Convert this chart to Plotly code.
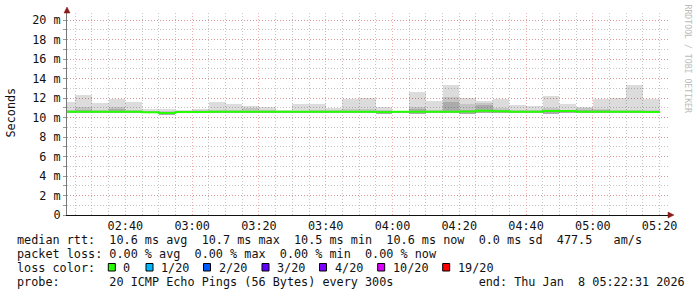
import plotly.graph_objects as go
import pandas as pd

# ---- data (milliseconds), one value per 5-minute step starting 02:20 ----
step_start = pd.date_range("2026-01-08 02:20:00", periods=36, freq="5min")

smoke_hi = [11.6, 12.3, 11.5, 11.9, 11.6, 10.9, 10.85, 10.8, 10.9, 11.6,
            11.4, 11.2, 11.1, 10.8, 11.4, 11.4, 11.0, 11.9, 12.0, 11.08,
            10.7, 12.6, 11.7, 13.33, 12.0, 11.7, 11.9, 11.28, 11.18, 12.2,
            11.4, 11.08, 11.9, 12.0, 13.35, 11.9]
smoke_mid = [10.75, 11.05, 10.75, 11.08, 10.8, 10.65, 10.7, 10.7, 10.75, 10.8,
             10.75, 10.95, 10.8, 10.7, 10.7, 10.75, 10.8, 10.9, 10.85, 10.8,
             10.65, 11.08, 10.75, 12.1, 11.4, 11.5, 11.0, 10.8, 10.75, 10.97,
             10.8, 11.0, 10.9, 10.8, 10.8, 10.8]
smoke_dark = [10.65, 10.8, 10.65, 10.85, 10.65, 10.6, 10.6, 10.6, 10.62, 10.65,
              10.62, 10.7, 10.65, 10.6, 10.6, 10.62, 10.65, 10.7, 10.7, 10.65,
              10.6, 10.85, 10.65, 11.6, 10.8, 11.25, 10.75, 10.65, 10.65, 10.75,
              10.65, 10.75, 10.75, 10.65, 10.65, 10.65]
smoke_lo = [10.45, 10.45, 10.45, 10.45, 10.45, 10.42, 10.3, 10.45, 10.45, 10.42,
            10.45, 10.45, 10.42, 10.45, 10.45, 10.45, 10.45, 10.45, 10.45, 10.4,
            10.45, 10.4, 10.45, 10.42, 10.4, 10.45, 10.45, 10.45, 10.45, 10.4,
            10.45, 10.45, 10.45, 10.45, 10.45, 10.45]
median = [10.58, 10.6, 10.6, 10.58, 10.58, 10.55, 10.45, 10.57, 10.57, 10.58,
          10.58, 10.6, 10.6, 10.58, 10.58, 10.58, 10.58, 10.6, 10.6, 10.57,
          10.58, 10.6, 10.6, 10.6, 10.62, 10.7, 10.63, 10.6, 10.6, 10.68,
          10.66, 10.6, 10.6, 10.58, 10.58, 10.56]

y_tickvals = [0, 2, 4, 6, 8, 10, 12, 14, 16, 18, 20]
y_ticktext = ["0", "2 m", "4 m", "6 m", "8 m", "10 m", "12 m", "14 m", "16 m", "18 m", "20 m"]

legend_lines = [
    "median rtt:  10.6 ms avg  10.7 ms max  10.5 ms min  10.6 ms now  0.0 ms sd  477.5   am/s",
    "packet loss: 0.00 % avg  0.00 % max  0.00 % min  0.00 % now",
    "loss color:",
    "probe:       20 ICMP Echo Pings (56 Bytes) every 300s            end: Thu Jan  8 05:22:31 2026",
]
loss_labels = ["0", "1/20", "2/20", "3/20", "4/20", "10/20", "19/20"]
loss_colors = ["#26ff00", "#00b8ff", "#0059ff", "#5e00ff", "#7e00ff", "#dd00ff", "#ff0000"]

# ---- geometry ----
W, H = 697, 297
L, R, T, B = 67, 668, 13, 215
MONO = "DejaVu Sans Mono"
FS = 11.8

def px(x):
    return (x - L) / (R - L)

def py(y):
    return (B - y) / (B - T)

step = pd.Timedelta(minutes=5)
centers = [t + step / 2 for t in step_start]

fig = go.Figure()
for top, col in [(smoke_hi, "rgba(0,0,0,0.137)"),
                 (smoke_mid, "rgba(0,0,0,0.10)"),
                 (smoke_dark, "rgba(0,0,0,0.13)")]:
    fig.add_trace(go.Bar(
        x=centers, y=[h - l for h, l in zip(top, smoke_lo)], base=smoke_lo,
        width=300000, marker=dict(color=col, line=dict(width=0)),
        hoverinfo="skip", showlegend=False))

line_x = list(step_start) + [step_start[-1] + step]
line_y = median + [median[-1]]
fig.add_trace(go.Scatter(x=line_x, y=line_y, mode="lines", line_shape="hv",
                         line=dict(color="#26ff00", width=2), showlegend=False,
                         hoverinfo="skip"))

major_grid = "rgba(230,110,110,0.55)"
minor_grid = "rgba(150,150,150,0.55)"

fig.update_layout(
    width=W, height=H,
    margin=dict(l=L, r=W - R, t=T, b=H - B),
    paper_bgcolor="white", plot_bgcolor="white",
    barmode="overlay", bargap=0,
    showlegend=False,
    font=dict(family=MONO, size=FS, color="#111"),
    xaxis=dict(
        type="date",
        range=["2026-01-08 02:22:31", "2026-01-08 05:22:31"],
        tick0="2026-01-08 02:40:00", dtick=1200000, tickformat="%H:%M",
        showgrid=True, gridcolor=major_grid, griddash="1px,2px", gridwidth=1,
        minor=dict(tick0="2026-01-08 02:25:00", dtick=300000, showgrid=True,
                   gridcolor=minor_grid, griddash="1px,2px", ticks=""),
        showline=True, linecolor="#111", linewidth=1,
        ticks="", zeroline=False, automargin=False,
        tickfont=dict(family=MONO, size=FS, color="#111"),
    ),
    yaxis=dict(
        range=[0, 20.72],
        tickvals=y_tickvals, ticktext=y_ticktext,
        showgrid=True, gridcolor=major_grid, griddash="1px,2px", gridwidth=1,
        minor=dict(dtick=1, tick0=0, showgrid=True, gridcolor=minor_grid,
                   griddash="1px,2px", ticks="outside", ticklen=3, tickcolor="#999"),
        showline=True, linecolor="#777", linewidth=1,
        ticks="outside", ticklen=3, tickcolor="#999",
        zeroline=False, automargin=False,
        tickfont=dict(family=MONO, size=FS, color="#111"),
    ),
)

# axis arrows (pixel-sized triangles anchored at the axis ends)
fig.add_shape(type="path", xref="paper", yref="paper",
              xsizemode="pixel", ysizemode="pixel", xanchor=0, yanchor=1,
              path="M -3 0 L 3 0 L 0 6 Z",
              fillcolor="#8b1a1a", line=dict(color="#8b1a1a", width=0.5), layer="above")
fig.add_shape(type="path", xref="paper", yref="paper",
              xsizemode="pixel", ysizemode="pixel", xanchor=1, yanchor=0,
              path="M 0 -3 L 0 3 L 6 0 Z",
              fillcolor="#8b1a1a", line=dict(color="#8b1a1a", width=0.5), layer="above")

# y-axis title
fig.add_annotation(text="Seconds", xref="paper", yref="paper", x=px(10.5), y=py(113),
                   showarrow=False, textangle=-90, xanchor="center", yanchor="middle",
                   font=dict(family=MONO, size=FS, color="#111"))
# watermark
fig.add_annotation(text="RRDTOOL / TOBI OETIKER", xref="paper", yref="paper",
                   x=px(687.5), y=py(59), showarrow=False, textangle=90,
                   xanchor="center", yanchor="middle",
                   font=dict(family=MONO, size=8.2, color="#bbbbbb"))

# legend text lines
line_centers = [240, 254, 268, 282]
for txt, yc in zip(legend_lines, line_centers):
    fig.add_annotation(text=txt.replace(" ", "\u00a0"), xref="paper", yref="paper",
                       x=px(15), y=py(yc), showarrow=False, xanchor="left", yanchor="middle",
                       font=dict(family=MONO, size=FS, color="#111"))

# loss color boxes
box_x = [108.3, 146, 203.5, 262, 319.5, 377.7, 442.7]
for bx, lab, col in zip(box_x, loss_labels, loss_colors):
    fig.add_shape(type="rect", xref="paper", yref="paper",
                  x0=px(bx), x1=px(bx + 7), y0=py(263.5), y1=py(271),
                  fillcolor=col, line=dict(color="#000", width=1))
    fig.add_annotation(text=lab, xref="paper", yref="paper", x=px(bx + 13), y=py(268),
                       showarrow=False, xanchor="left", yanchor="middle",
                       font=dict(family=MONO, size=FS, color="#111"))

fig.write_html("out.html")
